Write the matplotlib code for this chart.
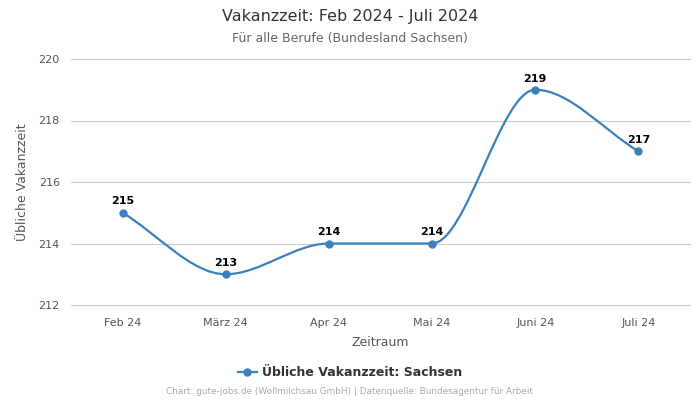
import numpy as np
import matplotlib.pyplot as plt
from matplotlib.path import Path
from matplotlib.patches import PathPatch
from matplotlib.lines import Line2D

months = ["Feb 24", "März 24", "Apr 24", "Mai 24", "Juni 24", "Juli 24"]
values = [215, 213, 214, 214, 219, 217]
series_name = "Übliche Vakanzzeit: Sachsen"
yticks = [212, 214, 216, 218, 220]

color = "#3a80bf"
plt.rcParams["font.family"] = ["DejaVu Sans"]


def monotone_path(x, y):
    # Fritsch-Carlson slopes, drawn as cubic bezier segments
    x = np.asarray(x, float)
    y = np.asarray(y, float)
    h = np.diff(x)
    d = np.diff(y) / h
    m = np.zeros_like(y)
    m[0], m[-1] = d[0], d[-1]
    for i in range(1, len(y) - 1):
        if d[i - 1] * d[i] <= 0:
            m[i] = 0
        else:
            w1 = 2 * h[i] + h[i - 1]
            w2 = h[i] + 2 * h[i - 1]
            m[i] = (w1 + w2) / (w1 / d[i - 1] + w2 / d[i])
    verts = [(x[0], y[0])]
    codes = [Path.MOVETO]
    for i in range(len(x) - 1):
        verts += [(x[i] + h[i] / 3, y[i] + m[i] * h[i] / 3),
                  (x[i + 1] - h[i] / 3, y[i + 1] - m[i + 1] * h[i] / 3),
                  (x[i + 1], y[i + 1])]
        codes += [Path.CURVE4] * 3
    return Path(verts, codes)


fig = plt.figure(figsize=(7, 4), dpi=100)
ax = fig.add_axes([0.1014, 0.2375, 0.8843, 0.615])

xs = np.arange(len(months))
ax.add_patch(PathPatch(monotone_path(xs, values), facecolor="none",
                       edgecolor=color, lw=1.6, zorder=3))
ax.plot(xs, values, "o", color=color, markersize=5, zorder=4)
for xi, v in zip(xs, values):
    ax.annotate(str(v), (xi, v), xytext=(0, 4.5), textcoords="offset points",
                ha="center", va="bottom", fontsize=8, fontweight="bold",
                color="black")

ax.set_xlim(-0.5, len(months) - 0.5)
ax.set_ylim(212, 220)
ax.set_xticks(xs)
ax.set_xticklabels(months)
ax.set_yticks(yticks)
ax.tick_params(length=0, labelsize=8, labelcolor="#555555", pad=8)
ax.tick_params(axis="x", pad=9)
ax.grid(axis="y", color="#cccccc", lw=0.8)
for gl in ax.get_ygridlines():
    gl.set_clip_on(False)
ax.set_axisbelow(True)
for s in ax.spines.values():
    s.set_visible(False)

ax.set_xlabel("Zeitraum", fontsize=9, color="#555555", labelpad=6)
ax.set_ylabel("Übliche Vakanzzeit", fontsize=9, color="#555555", labelpad=7)

fig.text(0.5, 0.958, "Vakanzzeit: Feb 2024 - Juli 2024", ha="center", va="center",
         fontsize=11.5, color="#333333")
fig.text(0.5, 0.903, "Für alle Berufe (Bundesland Sachsen)", ha="center", va="center",
         fontsize=9, color="#666666")

handle = Line2D([], [], color=color, marker="o", lw=1.6, markersize=5)
fig.legend([handle], [series_name], loc="center", bbox_to_anchor=(0.5, 0.068),
           frameon=False, handlelength=1.5, handletextpad=0.4,
           prop={"size": 9, "weight": "bold"}, labelcolor="#333333")

fig.text(0.5, 0.02, "Chart: gute-jobs.de (Wollmilchsau GmbH) | Datenquelle: Bundesagentur für Arbeit",
         ha="center", va="center", fontsize=6.4, color="#aaaaaa")

fig.savefig("out.png", dpi=100)
